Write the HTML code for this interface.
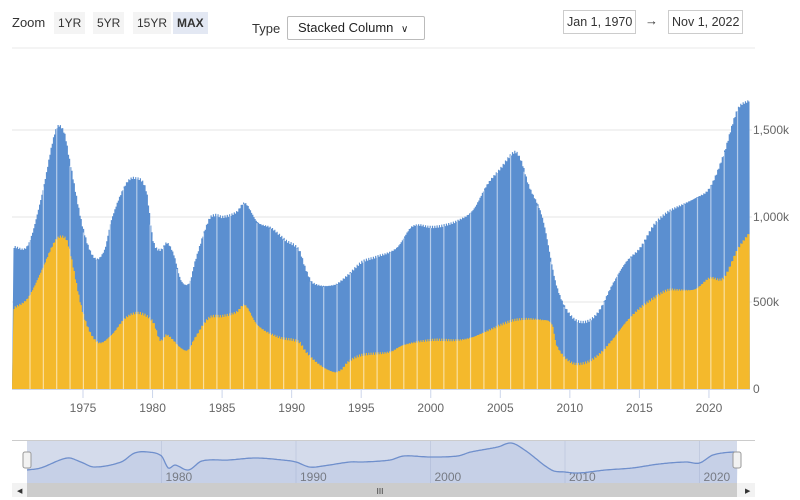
<!DOCTYPE html>
<html><head><meta charset="utf-8"><style>
body{margin:0;width:800px;height:500px;background:#fff;font-family:"Liberation Sans",sans-serif;overflow:hidden;position:relative}
.t{position:absolute;font-size:13px;color:#333}
.b{position:absolute;top:12px;height:22px;line-height:22px;font-size:12px;color:#333;background:#f4f4f4;padding:0 4px}
.in{position:absolute;top:10px;height:22px;line-height:22px;border:1px solid #ccc;font-size:12.5px;color:#333;padding:0 3px}
</style></head><body>
<div class="t" style="left:12px;top:15px">Zoom</div>
<div class="b" style="left:54px">1YR</div>
<div class="b" style="left:93px">5YR</div>
<div class="b" style="left:133px">15YR</div>
<div class="b" style="left:173px;background:#e3e8f3;font-weight:bold">MAX</div>
<div class="t" style="left:252px;top:21px">Type</div>
<div style="position:absolute;left:287px;top:16px;width:138px;height:24px;border:1px solid #bbb;border-radius:2px;font-size:13px;line-height:22px;color:#222;padding-left:10px;box-sizing:border-box">Stacked Column <span style="font-size:10px;margin-left:4px">&#8744;</span></div>
<div class="in" style="left:563px">Jan 1, 1970</div>
<div class="t" style="left:645px;top:13px">&#8594;</div>
<div class="in" style="left:668px">Nov 1, 2022</div>
<svg id="s" width="800" height="500" style="position:absolute;left:0;top:0"></svg>
<script>
const T=[[1970,247],[1971,245],[1972,195],[1973,130],[1973.6,132],[1974,160],[1975,230],[1975.8,258],[1976.5,250],[1977,220],[1978,185],[1978.7,178],[1979.5,190],[1980,240],[1980.5,250],[1981,243],[1981.5,255],[1982,280],[1982.6,283],[1983,262],[1984,220],[1984.5,215],[1985,217],[1986,212],[1986.6,203],[1987.5,222],[1988.5,228],[1989.5,240],[1990.5,250],[1991,270],[1991.5,283],[1993,285],[1994,275],[1995,262],[1996,257],[1997.5,248],[1998.5,228],[1999,225],[2000,227],[2001,225],[2002,220],[2003,210],[2004,185],[2005,168],[2006,152],[2006.5,162],[2007,185],[2008,218],[2009,285],[2010,315],[2011,322],[2012,312],[2013,285],[2014,262],[2015,248],[2016,225],[2017,212],[2018,205],[2019,198],[2020,188],[2021,155],[2022,110],[2022.9,100]];
const Y=[[1970,308],[1971,298],[1972,270],[1973,240],[1973.7,238],[1974,250],[1975,315],[1976,342],[1977,335],[1978,318],[1979,313],[1980,322],[1980.5,340],[1981,335],[1982,348],[1982.5,350],[1983,338],[1984,318],[1985,316],[1986,312],[1986.6,305],[1987.5,325],[1989,337],[1990.5,342],[1991,352],[1992,365],[1993,372],[1993.5,370],[1994,362],[1995,355],[1997,352],[1998,345],[2000,340],[2002,340],[2003,337],[2004,331],[2006,320],[2008,320],[2008.7,325],[2009,345],[2010,362],[2011,363],[2012,355],[2013,340],[2014,322],[2015,308],[2016,298],[2017,290],[2018,290],[2019,289],[2020,278],[2021,278],[2022,250],[2022.9,232]];
const N=[[1970,470],[1971,468],[1973,458],[1974,462],[1975,467],[1977,462],[1978,453],[1979,452],[1980,456],[1980.5,468],[1981,465],[1982,470],[1983,461],[1985,460],[1987,458],[1989,460],[1990,462],[1991,467],[1992,466],[1994,462],[1995,462],[1997,460],[1998,456],[2000,457],[2002,456],[2003,452],[2005,447],[2006,443],[2007,450],[2009,470],[2010,472],[2011,473],[2013,470],[2015,468],[2017,464],[2019,462],[2020,463],[2021,455],[2022.5,452],[2022.9,453]];
function f(a,x){for(let i=1;i<a.length;i++)if(x<=a[i][0]){const p=a[i-1],q=a[i],t=Math.max(0,(x-p[0])/(q[0]-p[0]));
const p0=a[i-2]||p,p3=a[i+1]||q;const m1=(q[1]-p0[1])/(q[0]-p0[0])*(q[0]-p[0]),m2=(p3[1]-p[1])/(p3[0]-p[0])*(q[0]-p[0]);
const t2=t*t,t3=t2*t;return (2*t3-3*t2+1)*p[1]+(t3-2*t2+t)*m1+(-2*t3+3*t2)*q[1]+(t3-t2)*m2;}return a[a.length-1][1];}
const X=y=>83+(y-1975)*13.91;
let h='';
[130,217,302].forEach(y=>h+=`<line x1="12" x2="752" y1="${y}" y2="${y}" stroke="#e6e6e6"/>`);
h+=`<line x1="12" x2="755" y1="48" y2="48" stroke="#e8e8e8"/>`;
function area(a){let d='M12 389';for(let yr=1970;yr<=2022.85;yr+=1/12){const v=f(a,yr)+Math.sin(yr*37.1)*1.2;d+=` L${X(yr).toFixed(1)} ${v.toFixed(1)} L${(X(yr)+1.16).toFixed(1)} ${v.toFixed(1)}`;}return d+` L${X(2022.85)+1.2} 389Z`;}
h+=`<path d="${area(T)}" fill="#5b8fd0"/><path d="${area(Y)}" fill="#f4b92c"/>`;
for(let x=30;x<750;x+=13.35){h+=`<line x1="${x}" x2="${x}" y1="${f(T,(x-83)/13.91+1975)+1}" y2="389" stroke="rgba(255,255,255,0.55)" stroke-width="1.2"/>`;}
h+=`<line x1="12" x2="750" y1="389.5" y2="389.5" stroke="#ccd6eb"/>`;
for(let yr=1975;yr<=2020;yr+=5){const x=X(yr);h+=`<line x1="${x}" x2="${x}" y1="390" y2="398" stroke="#ccd6eb"/><text x="${x}" y="412" font-size="12" fill="#666" text-anchor="middle">${yr}</text>`;}
[[130,'1,500k'],[217,'1,000k'],[302,'500k'],[389,'0']].forEach(([y,t])=>h+=`<text x="753" y="${y+4}" font-size="12" fill="#666">${t}</text>`);
const NX=y=>27+(y-1970)*13.45;
h+=`<line x1="12" x2="755" y1="440.5" y2="440.5" stroke="#ccc"/>`;
h+=`<rect x="27" y="441" width="710" height="42" fill="#d4dbeb"/>`;
for(let yr=1980;yr<=2020;yr+=10){const x=NX(yr);h+=`<line x1="${x}" x2="${x}" y1="441" y2="483" stroke="#c2cbe0"/><text x="${x+4}" y="481" font-size="12" fill="#777">${yr}</text>`;}
let p='M27 483';for(let yr=1970;yr<=2022.9;yr+=0.1)p+=` L${NX(yr).toFixed(1)} ${f(N,yr).toFixed(1)}`;
h+=`<path d="${p} L737 483Z" fill="rgba(120,150,210,0.15)"/><path d="${p.replace('M27 483 L','M')}" fill="none" stroke="#6f8fcc" stroke-width="1.3"/>`;
h+=`<rect x="23" y="452" width="8" height="16" rx="2" fill="#f2f2f2" stroke="#999"/><rect x="733" y="452" width="8" height="16" rx="2" fill="#f2f2f2" stroke="#999"/>`;
h+=`<rect x="12" y="483" width="743" height="14" fill="#f2f2f2"/><rect x="27" y="483" width="710" height="14" fill="#cccccc"/>`;
h+=`<text x="380" y="494" font-size="8" fill="#333" text-anchor="middle">III</text><text x="17" y="493" font-size="7" fill="#333">&#9664;</text><text x="745" y="493" font-size="7" fill="#333">&#9654;</text>`;
document.getElementById('s').innerHTML=h;
</script>
</body></html>
